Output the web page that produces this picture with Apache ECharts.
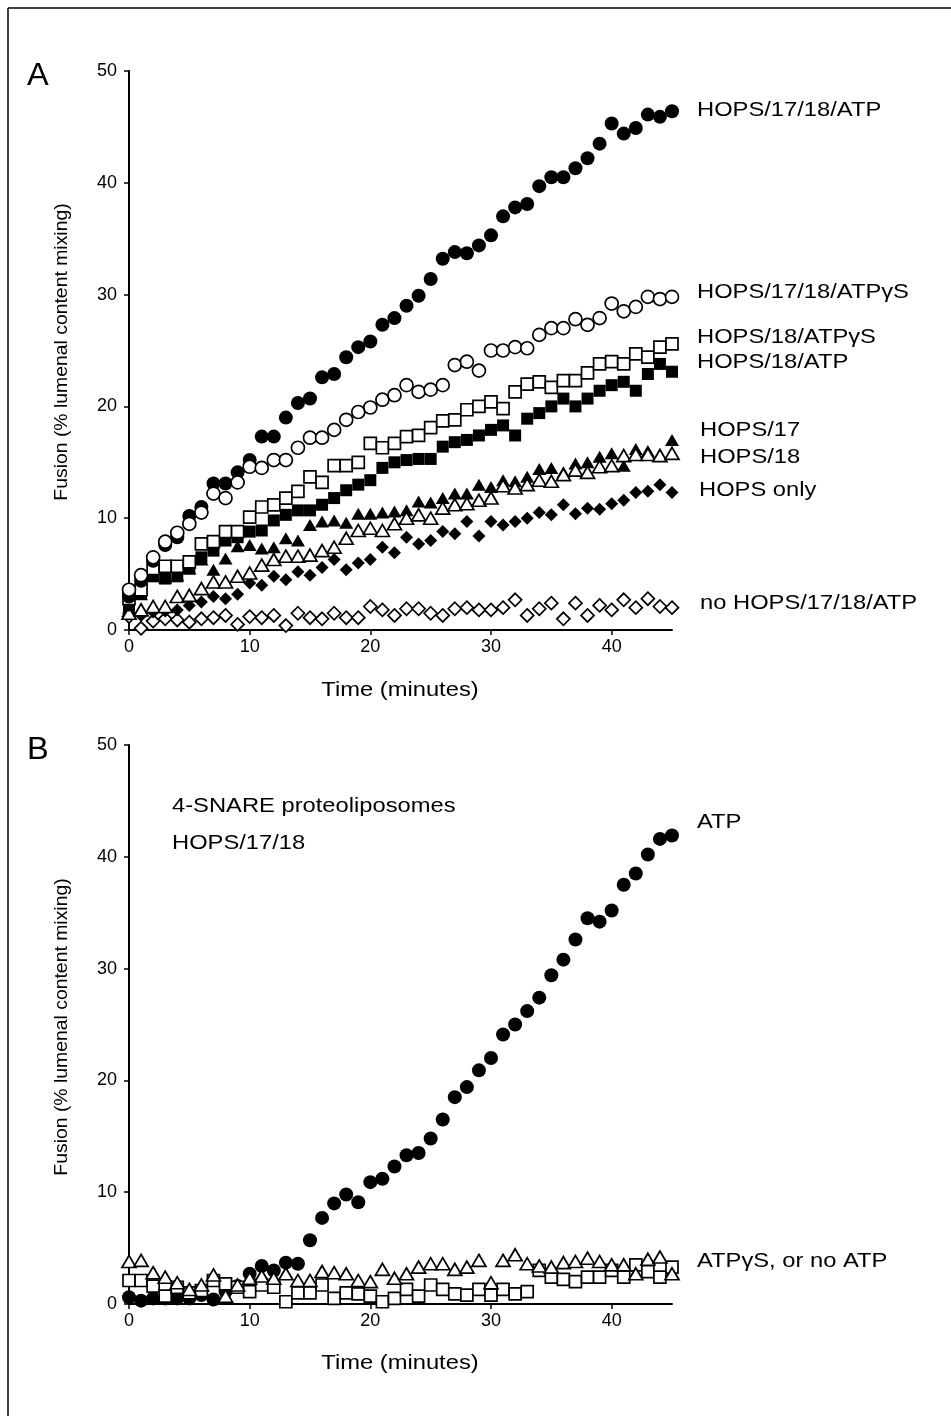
<!DOCTYPE html>
<html>
<head>
<meta charset="utf-8">
<script src="https://cdn.jsdelivr.net/npm/echarts@6/dist/echarts.min.js"></script>
<style>
html, body { margin: 0; padding: 0; background: #fff; }
#chart { width: 951px; height: 1416px; }
</style>
</head>
<body>
<div id="chart"></div>
<script>
// time points (minutes)
var minutes = [0, 1, 2, 3, 4, 5, 6, 7, 8, 9, 10, 11, 12, 13, 14, 15, 16, 17, 18, 19, 20, 21, 22,
	23, 24, 25, 26, 27, 28, 29, 30, 31, 32, 33, 34, 35, 36, 37, 38, 39, 40, 41, 42, 43, 44, 45];
var xTicks = [0, 10, 20, 30, 40];

// panel A
var hops1718Atp = [3.0, 4.4, 6.2, 7.6, 8.3, 10.2, 11.0, 13.1, 13.1, 14.1, 15.2, 17.3, 17.3, 19.0, 20.3, 20.7,
	22.6, 22.9, 24.4, 25.3, 25.8, 27.3, 27.9, 29.0, 29.9, 31.4, 33.2, 33.8, 33.7, 34.4, 35.3, 37.0, 37.8, 38.1,
	39.7, 40.5, 40.5, 41.3, 42.2, 43.5, 45.3, 44.4, 44.9, 46.1, 45.9, 46.4];
var hops1718AtpGS = [3.6, 4.9, 6.5, 7.9, 8.7, 9.5, 10.5, 12.2, 11.8, 13.2, 14.6, 14.5, 15.2, 15.2, 16.3, 17.2,
	17.2, 17.9, 18.8, 19.5, 19.9, 20.6, 21.0, 21.9, 21.3, 21.5, 21.9, 23.7, 24.0, 23.2, 25.0, 25.0, 25.3, 25.2,
	26.4, 27.0, 27.0, 27.8, 27.3, 27.9, 29.2, 28.5, 28.9, 29.8, 29.6, 29.8];
var hops18AtpGS = [2.8, 3.6, 5.5, 5.7, 5.7, 6.1, 7.7, 7.9, 8.8, 8.8, 10.1, 11.0, 11.2, 11.8, 12.4, 13.7, 13.2,
	14.7, 14.7, 15.0, 16.7, 16.3, 16.7, 17.3, 17.4, 18.1, 18.7, 18.8, 19.7, 20.0, 20.4, 19.8, 21.3, 22.0, 22.2,
	21.7, 22.3, 22.3, 23.0, 23.8, 24.0, 23.8, 24.7, 24.4, 25.3, 25.6];
var hops18Atp = [2.2, 3.4, 4.8, 4.6, 4.8, 5.5, 6.5, 7.1, 8.0, 8.3, 8.8, 8.9, 9.8, 10.3, 10.7, 10.7, 11.2, 11.8,
	12.5, 13.0, 13.4, 14.5, 15.0, 15.2, 15.3, 15.3, 16.4, 16.8, 17.0, 17.4, 17.9, 18.3, 17.4, 18.9, 19.4, 20.0,
	20.7, 20.0, 20.7, 21.4, 21.9, 22.2, 21.4, 22.9, 23.8, 23.1];
var hops17 = [2.0, 3.2, 5.0, 4.7, 4.9, 5.5, 6.3, 5.4, 6.4, 7.5, 7.6, 7.3, 7.4, 8.2, 8.0, 9.4, 9.7, 9.8, 9.6,
	10.4, 10.4, 10.5, 10.6, 10.7, 11.5, 11.4, 11.8, 12.2, 12.2, 13.0, 12.8, 13.4, 13.3, 13.7, 14.4, 14.5, 14.1,
	14.9, 15.0, 15.5, 15.8, 14.7, 16.2, 16.0, 15.7, 17.0];
var hops18 = [1.5, 1.8, 2.1, 2.1, 3.0, 3.1, 3.7, 4.3, 4.3, 4.8, 5.1, 5.8, 6.3, 6.6, 6.6, 6.7, 7.1, 7.4, 8.2,
	8.9, 9.1, 8.9, 9.5, 10.0, 10.3, 10.0, 10.9, 11.2, 11.3, 11.6, 11.8, 12.9, 12.7, 13.0, 13.4, 13.3, 13.9, 14.3,
	14.1, 14.6, 14.7, 15.6, 15.7, 15.7, 15.6, 15.8];
var hopsOnly = [1.4, 1.3, 1.6, 1.7, 1.8, 2.2, 2.5, 3.0, 2.8, 3.2, 4.2, 4.0, 4.8, 4.5, 5.2, 4.9, 5.6, 6.3, 5.4,
	6.0, 6.3, 7.4, 6.9, 8.3, 7.7, 8.0, 8.8, 8.6, 9.7, 8.4, 9.7, 9.4, 9.7, 10.0, 10.5, 10.3, 11.2, 10.4, 10.9,
	10.8, 11.3, 11.6, 12.3, 12.4, 13.0, 12.3];
var noHops = [1.2, 0.15, 0.8, 1.0, 0.9, 0.7, 1.0, 1.1, 1.3, 0.5, 1.2, 1.1, 1.3, 0.4, 1.5, 1.1, 1.0, 1.5, 1.1,
	1.1, 2.1, 1.8, 1.3, 1.9, 1.9, 1.5, 1.3, 1.9, 2.0, 1.8, 1.8, 2.0, 2.7, 1.3, 1.9, 2.4, 1.0, 2.4, 1.3, 2.2,
	1.8, 2.7, 2.0, 2.8, 2.1, 2.0];

// panel B
var snareAtp = [0.6, 0.3, 0.5, 0.5, 0.5, 0.5, 0.8, 0.4, 1.1, 1.6, 2.7, 3.4, 3.0, 3.7, 3.6, 5.7, 7.7, 9.0, 9.8,
	9.1, 10.9, 11.2, 12.3, 13.3, 13.5, 14.8, 16.5, 18.5, 19.4, 20.9, 22.0, 24.1, 25.0, 26.2, 27.4, 29.4, 30.8,
	32.6, 34.5, 34.2, 35.2, 37.5, 38.5, 40.2, 41.6, 41.9];
var snareAtpGS = [3.8, 3.9, 2.8, 2.4, 1.9, 1.3, 1.7, 2.6, 0.7, 1.7, 2.3, 2.5, 2.3, 2.7, 2.1, 2.1, 2.9, 2.8, 2.7,
	2.1, 2.0, 3.1, 2.3, 2.7, 3.3, 3.6, 3.6, 3.1, 3.3, 3.9, 1.9, 3.9, 4.4, 3.6, 3.4, 3.3, 3.7, 3.8, 4.1, 3.8,
	3.5, 3.5, 2.7, 4.0, 4.2, 2.7];
var snareNoAtp = [2.1, 2.1, 1.6, 0.7, 1.5, 1.0, 1.2, 2.1, 1.8, 1.5, 1.1, 1.7, 1.5, 0.2, 1.0, 1.0, 1.7, 0.5, 1.0,
	0.9, 0.7, 0.2, 0.5, 1.3, 0.7, 1.7, 1.3, 0.9, 0.8, 1.3, 0.8, 1.3, 0.9, 1.1, 3.0, 2.4, 2.2, 2.0, 2.4, 2.4,
	3.0, 2.4, 3.5, 2.9, 2.4, 3.3];

var FONT = 'Liberation Sans, Arial, sans-serif';

function pts(vals) {
	return minutes.map(function(m, i) { return [m, vals[i]]; });
}

function marks(name, vals, grid, symbol, size, open) {
	return {
		name: name,
		type: 'scatter',
		xAxisIndex: grid,
		yAxisIndex: grid,
		symbol: symbol,
		symbolSize: size,
		data: pts(vals),
		itemStyle: open
			? { color: '#fff', borderColor: '#000', borderWidth: 1.7, opacity: 1 }
			: { color: '#000', opacity: 1 },
		emphasis: { disabled: true },
		silent: true
	};
}

function xAxis(grid) {
	return {
		type: 'value', gridIndex: grid, min: 0, max: 45,
		splitLine: { show: false },
		axisLine: { lineStyle: { color: '#000', width: 2 } },
		axisTick: { customValues: xTicks, length: 5, lineStyle: { color: '#000', width: 1.5 } },
		axisLabel: { customValues: xTicks, color: '#000', fontSize: 18, fontFamily: FONT, margin: 8 }
	};
}

function yAxis(grid) {
	return {
		type: 'value', gridIndex: grid, min: 0, max: 50, interval: 10,
		splitLine: { show: false },
		axisLine: { show: true, lineStyle: { color: '#000', width: 2 } },
		axisTick: { show: true, length: 5, lineStyle: { color: '#000', width: 1.5 } },
		axisLabel: { color: '#000', fontSize: 18, fontFamily: FONT, margin: 12 }
	};
}

function label(text, x, y, size, opts) {
	opts = opts || {};
	return {
		type: 'text', x: x, y: y,
		rotation: opts.rotation || 0,
		scaleX: opts.scaleX || 1.13,
		silent: true,
		style: {
			text: text, fill: '#000', fontSize: size, fontFamily: FONT,
			align: opts.align || 'left', verticalAlign: 'middle'
		}
	};
}

var option = {
	animation: false,
	backgroundColor: '#fff',
	grid: [
		{ left: 129, top: 71, width: 543, height: 559 },
		{ left: 129, top: 745, width: 543, height: 559 }
	],
	xAxis: [xAxis(0), xAxis(1)],
	yAxis: [yAxis(0), yAxis(1)],
	series: [
		marks('no HOPS/17/18/ATP', noHops, 0, 'diamond', 13, true),
		marks('HOPS only', hopsOnly, 0, 'diamond', 13, false),
		marks('HOPS/17', hops17, 0, 'triangle', [14, 12], false),
		marks('HOPS/18', hops18, 0, 'triangle', [14, 12], true),
		marks('HOPS/18/ATP', hops18Atp, 0, 'rect', 12, false),
		marks('HOPS/18/ATPγS', hops18AtpGS, 0, 'rect', 12, true),
		marks('HOPS/17/18/ATP', hops1718Atp, 0, 'circle', 14, false),
		marks('HOPS/17/18/ATPγS', hops1718AtpGS, 0, 'circle', 13, true),
		marks('ATP', snareAtp, 1, 'circle', 14, false),
		marks('no ATP', snareNoAtp, 1, 'rect', 12, true),
		marks('ATPγS', snareAtpGS, 1, 'triangle', [14, 12], true)
	],
	graphic: [
		{ type: 'line', silent: true, shape: { x1: 8, y1: 8, x2: 951, y2: 8 }, style: { stroke: '#000', lineWidth: 1.5 } },
		{ type: 'line', silent: true, shape: { x1: 8, y1: 8, x2: 8, y2: 1416 }, style: { stroke: '#000', lineWidth: 1.5 } },
		label('A', 27, 76, 31, { scaleX: 1.05 }),
		label('B', 27, 750, 31, { scaleX: 1.05 }),
		label('Fusion (% lumenal content mixing)', 62, 352, 19, { rotation: Math.PI / 2, align: 'center', scaleX: 1.02 }),
		label('Fusion (% lumenal content mixing)', 62, 1027, 19, { rotation: Math.PI / 2, align: 'center', scaleX: 1.02 }),
		label('Time (minutes)', 400, 690, 21, { align: 'center' }),
		label('Time (minutes)', 400, 1363, 21, { align: 'center' }),
		label('HOPS/17/18/ATP', 697, 110, 21),
		label('HOPS/17/18/ATPγS', 697, 292, 21),
		label('HOPS/18/ATPγS', 697, 337, 21),
		label('HOPS/18/ATP', 697, 362, 21),
		label('HOPS/17', 700, 430, 21),
		label('HOPS/18', 700, 457, 21),
		label('HOPS only', 699, 490, 21),
		label('no HOPS/17/18/ATP', 700, 603, 21),
		label('4-SNARE proteoliposomes', 172, 806, 21),
		label('HOPS/17/18', 172, 843, 21),
		label('ATP', 697, 822, 21),
		label('ATPγS, or no ATP', 697, 1261, 21)
	]
};

var chart = echarts.init(document.getElementById('chart'), null, { renderer: 'canvas' });
chart.setOption(option);
</script>
</body>
</html>
